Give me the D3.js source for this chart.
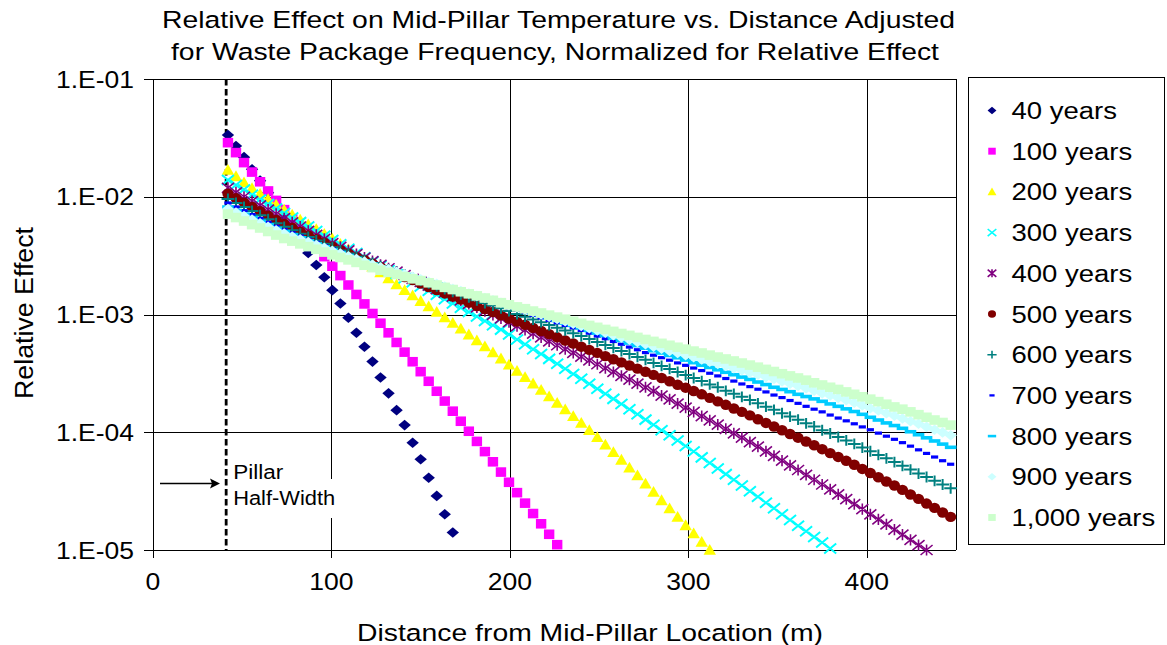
<!DOCTYPE html>
<html><head><meta charset="utf-8">
<script src="https://cdn.jsdelivr.net/npm/d3@7"></script>
<style>
body{margin:0;background:#fff;}
svg{display:block;font-family:"Liberation Sans",Arial,sans-serif;}
</style></head><body>
<svg id="chart" width="1167" height="645"></svg>
<script>
// ---------------- data ----------------
const distance = [42,46.5,51,55.5,60,64.5,69,73.5,78,82.5,
 87,91.5,96,100.5,105,109.5,114,118.5,123,127.5,
 132,136.5,141,145.5,150,154.5,159,163.5,168,172.5,
 177,181.5,186,190.5,195,199.5,204,208.5,213,217.5,
 222,226.5,231,235.5,240,244.5,249,253.5,258,262.5,
 267,271.5,276,280.5,285,289.5,294,298.5,303,307.5,
 312,316.5,321,325.5,330,334.5,339,343.5,348,352.5,
 357,361.5,366,370.5,375,379.5,384,388.5,393,397.5,
 402,406.5,411,415.5,420,424.5,429,433.5,438,442.5,447];

const s40 = [3.34e-2,2.70e-2,2.17e-2,1.71e-2,1.37e-2,1.08e-2,8.56e-3,6.75e-3,5.35e-3,4.23e-3,
 3.33e-3,2.63e-3,2.07e-3,1.61e-3,1.24e-3,9.39e-4,7.00e-4,5.33e-4,3.98e-4,2.92e-4,
 2.14e-4,1.54e-4,1.15e-4,8.15e-5,5.89e-5,4.11e-5,2.88e-5,2.01e-5,1.41e-5];

const s100 = [2.88e-2,2.37e-2,1.95e-2,1.62e-2,1.34e-2,1.12e-2,9.31e-3,7.77e-3,6.47e-3,5.39e-3,
 4.49e-3,3.73e-3,3.10e-3,2.57e-3,2.14e-3,1.78e-3,1.48e-3,1.23e-3,1.02e-3,8.43e-4,
 6.99e-4,5.79e-4,4.79e-4,3.97e-4,3.27e-4,2.71e-4,2.23e-4,1.84e-4,1.51e-4,1.24e-4,
 1.02e-4,8.36e-5,6.85e-5,5.61e-5,4.59e-5,3.76e-5,3.07e-5,2.50e-5,2.04e-5,1.67e-5,
 1.36e-5,1.11e-5];

const s200 = [1.69e-2,1.49e-2,1.32e-2,1.18e-2,1.055e-2,9.51e-3,8.56e-3,7.75e-3,7.02e-3,6.39e-3,
 5.82e-3,5.30e-3,4.82e-3,4.39e-3,3.97e-3,3.56e-3,3.20e-3,2.87e-3,2.55e-3,2.28e-3,
 2.02e-3,1.80e-3,1.61e-3,1.45e-3,1.30e-3,1.17e-3,1.05e-3,9.43e-4,8.47e-4,7.56e-4,
 6.75e-4,6.01e-4,5.35e-4,4.75e-4,4.22e-4,3.74e-4,3.31e-4,2.93e-4,2.59e-4,2.29e-4,
 2.01e-4,1.77e-4,1.56e-4,1.37e-4,1.20e-4,1.04e-4,9.06e-5,7.83e-5,6.76e-5,5.83e-5,
 5.00e-5,4.29e-5,3.65e-5,3.11e-5,2.64e-5,2.25e-5,1.91e-5,1.62e-5,1.38e-5,1.17e-5,
 1.00e-5];

const s300 = [1.39e-2,1.26e-2,1.15e-2,1.04e-2,9.47e-3,8.68e-3,7.94e-3,7.28e-3,6.66e-3,6.09e-3,
 5.58e-3,5.11e-3,4.67e-3,4.29e-3,3.94e-3,3.62e-3,3.33e-3,3.06e-3,2.82e-3,2.59e-3,
 2.39e-3,2.21e-3,2.03e-3,1.88e-3,1.73e-3,1.59e-3,1.47e-3,1.35e-3,1.24e-3,1.14e-3,
 1.05e-3,9.62e-4,8.82e-4,8.11e-4,7.44e-4,6.76e-4,6.14e-4,5.58e-4,5.07e-4,4.61e-4,
 4.20e-4,3.81e-4,3.46e-4,3.13e-4,2.85e-4,2.58e-4,2.34e-4,2.12e-4,1.92e-4,1.74e-4,
 1.57e-4,1.42e-4,1.28e-4,1.16e-4,1.04e-4,9.42e-5,8.51e-5,7.65e-5,6.85e-5,6.12e-5,
 5.49e-5,4.92e-5,4.41e-5,3.95e-5,3.53e-5,3.16e-5,2.83e-5,2.52e-5,2.26e-5,2.01e-5,
 1.80e-5,1.61e-5,1.44e-5,1.29e-5,1.16e-5,1.03e-5];

const s400 = [1.19e-2,1.09e-2,1.00e-2,9.20e-3,8.43e-3,7.78e-3,7.15e-3,6.57e-3,6.06e-3,5.59e-3,
 5.14e-3,4.75e-3,4.38e-3,4.03e-3,3.76e-3,3.50e-3,3.26e-3,3.04e-3,2.84e-3,2.64e-3,
 2.47e-3,2.31e-3,2.16e-3,2.01e-3,1.89e-3,1.76e-3,1.64e-3,1.53e-3,1.42e-3,1.32e-3,
 1.23e-3,1.15e-3,1.07e-3,9.94e-4,9.25e-4,8.60e-4,7.98e-4,7.40e-4,6.87e-4,6.38e-4,
 5.92e-4,5.48e-4,5.09e-4,4.73e-4,4.39e-4,4.07e-4,3.78e-4,3.50e-4,3.25e-4,3.01e-4,
 2.80e-4,2.59e-4,2.41e-4,2.23e-4,2.05e-4,1.90e-4,1.75e-4,1.62e-4,1.49e-4,1.37e-4,
 1.26e-4,1.16e-4,1.07e-4,9.80e-5,9.01e-5,8.26e-5,7.56e-5,6.89e-5,6.30e-5,5.74e-5,
 5.24e-5,4.78e-5,4.35e-5,3.95e-5,3.60e-5,3.27e-5,2.97e-5,2.70e-5,2.45e-5,2.22e-5,
 2.01e-5,1.82e-5,1.65e-5,1.49e-5,1.35e-5,1.22e-5,1.10e-5,1.00e-5];

const s500 = [1.06e-2,9.70e-3,8.92e-3,8.19e-3,7.54e-3,6.92e-3,6.35e-3,5.87e-3,5.45e-3,5.06e-3,
 4.69e-3,4.36e-3,4.06e-3,3.76e-3,3.52e-3,3.29e-3,3.07e-3,2.89e-3,2.70e-3,2.52e-3,
 2.37e-3,2.22e-3,2.08e-3,1.96e-3,1.83e-3,1.71e-3,1.61e-3,1.51e-3,1.42e-3,1.34e-3,
 1.26e-3,1.18e-3,1.11e-3,1.05e-3,9.84e-4,9.25e-4,8.70e-4,8.19e-4,7.70e-4,7.24e-4,
 6.81e-4,6.40e-4,6.02e-4,5.67e-4,5.33e-4,5.01e-4,4.72e-4,4.43e-4,4.17e-4,3.92e-4,
 3.69e-4,3.47e-4,3.26e-4,3.07e-4,2.89e-4,2.71e-4,2.53e-4,2.39e-4,2.24e-4,2.10e-4,
 1.96e-4,1.83e-4,1.71e-4,1.59e-4,1.49e-4,1.39e-4,1.29e-4,1.20e-4,1.12e-4,1.04e-4,
 9.66e-5,8.99e-5,8.34e-5,7.75e-5,7.18e-5,6.65e-5,6.17e-5,5.72e-5,5.30e-5,4.88e-5,
 4.51e-5,4.15e-5,3.82e-5,3.53e-5,3.24e-5,2.96e-5,2.72e-5,2.48e-5,2.28e-5,2.08e-5,
 1.91e-5];

const s600 = [9.57e-3,8.85e-3,8.18e-3,7.57e-3,6.98e-3,6.45e-3,5.97e-3,5.55e-3,5.19e-3,4.86e-3,
 4.55e-3,4.26e-3,3.99e-3,3.73e-3,3.50e-3,3.29e-3,3.09e-3,2.91e-3,2.74e-3,2.57e-3,
 2.42e-3,2.30e-3,2.18e-3,2.05e-3,1.94e-3,1.84e-3,1.73e-3,1.64e-3,1.56e-3,1.48e-3,
 1.40e-3,1.32e-3,1.25e-3,1.19e-3,1.13e-3,1.07e-3,1.01e-3,9.58e-4,9.07e-4,8.60e-4,
 8.14e-4,7.73e-4,7.32e-4,6.94e-4,6.56e-4,6.19e-4,5.85e-4,5.52e-4,5.20e-4,4.90e-4,
 4.62e-4,4.36e-4,4.12e-4,3.88e-4,3.66e-4,3.45e-4,3.25e-4,3.06e-4,2.89e-4,2.72e-4,
 2.55e-4,2.41e-4,2.25e-4,2.12e-4,2.00e-4,1.88e-4,1.76e-4,1.65e-4,1.55e-4,1.45e-4,
 1.36e-4,1.28e-4,1.19e-4,1.12e-4,1.04e-4,9.76e-5,9.11e-5,8.52e-5,7.96e-5,7.41e-5,
 6.90e-5,6.42e-5,6.00e-5,5.58e-5,5.19e-5,4.82e-5,4.46e-5,4.17e-5,3.87e-5,3.60e-5,
 3.34e-5];

const s700 = [8.85e-3,8.19e-3,7.62e-3,7.06e-3,6.54e-3,6.06e-3,5.62e-3,5.25e-3,4.94e-3,4.64e-3,
 4.35e-3,4.10e-3,3.85e-3,3.62e-3,3.41e-3,3.20e-3,3.02e-3,2.85e-3,2.68e-3,2.52e-3,
 2.40e-3,2.28e-3,2.16e-3,2.04e-3,1.94e-3,1.85e-3,1.75e-3,1.67e-3,1.59e-3,1.52e-3,
 1.45e-3,1.38e-3,1.32e-3,1.26e-3,1.20e-3,1.14e-3,1.09e-3,1.04e-3,9.84e-4,9.37e-4,
 8.93e-4,8.50e-4,8.08e-4,7.70e-4,7.33e-4,6.94e-4,6.56e-4,6.23e-4,5.90e-4,5.59e-4,
 5.29e-4,5.02e-4,4.75e-4,4.51e-4,4.30e-4,4.09e-4,3.88e-4,3.70e-4,3.51e-4,3.34e-4,
 3.17e-4,3.01e-4,2.86e-4,2.72e-4,2.57e-4,2.44e-4,2.32e-4,2.20e-4,2.07e-4,1.97e-4,
 1.86e-4,1.76e-4,1.66e-4,1.57e-4,1.49e-4,1.40e-4,1.32e-4,1.25e-4,1.18e-4,1.11e-4,
 1.05e-4,9.83e-5,9.26e-5,8.71e-5,8.16e-5,7.62e-5,7.09e-5,6.61e-5,6.16e-5,5.73e-5,
 5.35e-5];

const s800 = [8.18e-3,7.65e-3,7.12e-3,6.66e-3,6.20e-3,5.78e-3,5.39e-3,5.06e-3,4.77e-3,4.49e-3,
 4.24e-3,3.99e-3,3.76e-3,3.54e-3,3.35e-3,3.16e-3,2.98e-3,2.83e-3,2.67e-3,2.52e-3,
 2.42e-3,2.30e-3,2.19e-3,2.09e-3,1.99e-3,1.90e-3,1.82e-3,1.73e-3,1.65e-3,1.58e-3,
 1.50e-3,1.44e-3,1.37e-3,1.31e-3,1.25e-3,1.19e-3,1.13e-3,1.08e-3,1.03e-3,9.79e-4,
 9.34e-4,8.89e-4,8.47e-4,8.08e-4,7.70e-4,7.32e-4,6.96e-4,6.63e-4,6.31e-4,6.01e-4,
 5.72e-4,5.44e-4,5.18e-4,4.93e-4,4.71e-4,4.49e-4,4.29e-4,4.10e-4,3.90e-4,3.71e-4,
 3.55e-4,3.39e-4,3.23e-4,3.08e-4,2.94e-4,2.81e-4,2.67e-4,2.54e-4,2.41e-4,2.31e-4,
 2.21e-4,2.10e-4,2.01e-4,1.92e-4,1.83e-4,1.74e-4,1.66e-4,1.58e-4,1.50e-4,1.42e-4,
 1.34e-4,1.27e-4,1.20e-4,1.14e-4,1.08e-4,1.01e-4,9.53e-5,8.97e-5,8.43e-5,7.93e-5,
 7.45e-5];

const s900 = [7.87e-3,7.35e-3,6.85e-3,6.39e-3,5.95e-3,5.56e-3,5.19e-3,4.87e-3,4.60e-3,4.35e-3,
 4.12e-3,3.89e-3,3.68e-3,3.47e-3,3.30e-3,3.12e-3,2.96e-3,2.81e-3,2.66e-3,2.52e-3,
 2.42e-3,2.30e-3,2.19e-3,2.09e-3,1.99e-3,1.90e-3,1.82e-3,1.73e-3,1.65e-3,1.58e-3,
 1.51e-3,1.44e-3,1.38e-3,1.32e-3,1.26e-3,1.20e-3,1.15e-3,1.10e-3,1.05e-3,1.00e-3,
 9.58e-4,9.16e-4,8.76e-4,8.37e-4,8.00e-4,7.65e-4,7.32e-4,6.99e-4,6.68e-4,6.39e-4,
 6.11e-4,5.84e-4,5.59e-4,5.34e-4,5.13e-4,4.91e-4,4.71e-4,4.52e-4,4.33e-4,4.15e-4,
 3.98e-4,3.81e-4,3.65e-4,3.50e-4,3.36e-4,3.21e-4,3.08e-4,2.94e-4,2.83e-4,2.70e-4,
 2.58e-4,2.47e-4,2.36e-4,2.25e-4,2.14e-4,2.05e-4,1.96e-4,1.87e-4,1.78e-4,1.69e-4,
 1.60e-4,1.53e-4,1.45e-4,1.38e-4,1.31e-4,1.24e-4,1.18e-4,1.11e-4,1.05e-4,9.97e-5,
 9.44e-5];

const s1000 = [7.13e-3,6.66e-3,6.22e-3,5.80e-3,5.43e-3,5.07e-3,4.73e-3,4.42e-3,4.20e-3,3.98e-3,
 3.77e-3,3.58e-3,3.39e-3,3.21e-3,3.05e-3,2.91e-3,2.77e-3,2.62e-3,2.50e-3,2.38e-3,
 2.28e-3,2.19e-3,2.10e-3,2.01e-3,1.94e-3,1.86e-3,1.78e-3,1.70e-3,1.63e-3,1.56e-3,
 1.50e-3,1.44e-3,1.38e-3,1.32e-3,1.26e-3,1.21e-3,1.16e-3,1.12e-3,1.07e-3,1.03e-3,
 9.88e-4,9.50e-4,9.12e-4,8.76e-4,8.42e-4,8.08e-4,7.78e-4,7.47e-4,7.19e-4,6.90e-4,
 6.65e-4,6.39e-4,6.14e-4,5.91e-4,5.69e-4,5.48e-4,5.27e-4,5.08e-4,4.89e-4,4.71e-4,
 4.52e-4,4.35e-4,4.19e-4,4.03e-4,3.87e-4,3.72e-4,3.57e-4,3.42e-4,3.28e-4,3.14e-4,
 3.01e-4,2.89e-4,2.77e-4,2.63e-4,2.52e-4,2.41e-4,2.31e-4,2.20e-4,2.10e-4,2.00e-4,
 1.91e-4,1.82e-4,1.73e-4,1.64e-4,1.57e-4,1.49e-4,1.41e-4,1.34e-4,1.27e-4,1.21e-4,
 1.15e-4];

const seriesNames = ["40 years","100 years","200 years","300 years","400 years","500 years",
  "600 years","700 years","800 years","900 years","1,000 years"];
const seriesValues = [s40,s100,s200,s300,s400,s500,s600,s700,s800,s900,s1000];
const seriesColors = ["#000080","#FF00FF","#FFFF00","#00FFFF","#800080","#800000",
  "#008080","#0000FF","#00CCFF","#CCFFFF","#CCFFCC"];
const seriesMarkers = ["diamond","square","triangle","cross","star","circle",
  "plus","dash","longdash","diamond","square"];

const xTicks = [0,100,200,300,400];
const xTickLabels = ["0","100","200","300","400"];
const yTicks = [1e-1,1e-2,1e-3,1e-4,1e-5];
const yTickLabels = ["1.E-01","1.E-02","1.E-03","1.E-04","1.E-05"];
const pillarHalfWidth = 41;

const titleLines = ["Relative Effect on Mid-Pillar Temperature vs. Distance Adjusted",
  "for Waste Package Frequency, Normalized for Relative Effect"];
const xTitle = "Distance from Mid-Pillar Location (m)";
const yTitle = "Relative Effect";
const annotationLines = ["Pillar","Half-Width"];

// ---------------- layout ----------------
const svg = d3.select("#chart");
const x = d3.scaleLinear().domain([0,450]).range([153,956]);
const y = d3.scaleLog().domain([1e-5,1e-1]).range([550,79]);

function addText(parent, str, xx, yy, size, anchor, targetLen, sx) {
  const t = parent.append("text").attr("x", 0).attr("y", yy)
    .attr("font-size", size).attr("fill", "#000").text(str);
  const w = t.node().getComputedTextLength();
  const L = targetLen != null ? targetLen : w * sx;
  const x0 = anchor === "middle" ? xx - L / 2 : anchor === "end" ? xx - L : xx;
  t.attr("x", x0).attr("textLength", L).attr("lengthAdjust", "spacingAndGlyphs");
  return t;
}

// gridlines
const grid = svg.append("g").attr("stroke", "#000").attr("stroke-width", 1)
  .attr("shape-rendering", "crispEdges");
grid.selectAll("line.v").data(xTicks.filter(d => d > 0)).join("line")
  .attr("x1", d => Math.round(x(d)) + 0.5).attr("x2", d => Math.round(x(d)) + 0.5)
  .attr("y1", y(1e-1)).attr("y2", y(1e-5));
grid.selectAll("line.h").data(yTicks).join("line")
  .attr("x1", x(0)).attr("x2", x(450))
  .attr("y1", d => Math.round(y(d)) + 0.5).attr("y2", d => Math.round(y(d)) + 0.5);
grid.append("line").attr("x1", Math.round(x(450)) + 0.5).attr("x2", Math.round(x(450)) + 0.5)
  .attr("y1", y(1e-1)).attr("y2", y(1e-5));
// axes
grid.append("line").attr("x1", Math.round(x(0)) + 0.5).attr("x2", Math.round(x(0)) + 0.5)
  .attr("y1", y(1e-1)).attr("y2", y(1e-5));
grid.selectAll("line.yt").data(yTicks).join("line")
  .attr("x1", x(0) - 9).attr("x2", x(0) + 4)
  .attr("y1", d => Math.round(y(d)) + 0.5).attr("y2", d => Math.round(y(d)) + 0.5);
grid.selectAll("line.xt").data(xTicks).join("line")
  .attr("x1", d => Math.round(x(d)) + 0.5).attr("x2", d => Math.round(x(d)) + 0.5)
  .attr("y1", y(1e-5) - 4).attr("y2", y(1e-5) + 8);

// annotation box (white behind text)
svg.append("rect").attr("x", x(pillarHalfWidth) + 4).attr("y", 479).attr("width", 107).attr("height", 39)
  .attr("fill", "#fff");

// pillar dashed line
svg.append("line").attr("x1", x(pillarHalfWidth)).attr("x2", x(pillarHalfWidth))
  .attr("y1", y(1e-1)).attr("y2", y(1e-5))
  .attr("stroke", "#000").attr("stroke-width", 2.8).attr("stroke-dasharray", "6.5,3.5");

// markers
function markerPath(type, k) {
  const s = v => (v * k).toFixed(2);
  switch (type) {
    case "diamond": return `M0,${s(-5.3)}L${s(6.2)},0L0,${s(5.3)}L${s(-6.2)},0Z`;
    case "square": return `M${s(-5.2)},${s(-4.8)}h${s(10.4)}v${s(9.6)}h${s(-10.4)}Z`;
    case "triangle": return `M0,${s(-6)}L${s(6.2)},${s(4.8)}L${s(-6.2)},${s(4.8)}Z`;
    case "circle": return `M${s(-5.6)},0A${s(5.6)},${s(5.2)} 0 1,0 ${s(5.6)},0A${s(5.6)},${s(5.2)} 0 1,0 ${s(-5.6)},0Z`;
    case "cross": return `M${s(-6)},${s(-5)}L${s(6)},${s(5)}M${s(-6)},${s(5)}L${s(6)},${s(-5)}`;
    case "star": return `M${s(-6)},${s(-5)}L${s(6)},${s(5)}M${s(-6)},${s(5)}L${s(6)},${s(-5)}M0,${s(-5.6)}L0,${s(5.6)}`;
    case "plus": return `M${s(-6.4)},0L${s(6.4)},0M0,${s(-5.4)}L0,${s(5.4)}`;
    case "dash": return `M${s(-3.6)},${s(-1.6)}h${s(7.2)}v${s(3.2)}h${s(-7.2)}Z`;
    case "longdash": return `M${s(-5.8)},${s(-1.8)}h${s(11.6)}v${s(3.6)}h${s(-11.6)}Z`;
  }
}
const isStroke = t => t === "cross" || t === "star" || t === "plus";

const plot = svg.append("g");
seriesValues.forEach((vals, i) => {
  const pts = vals.map((v, j) => ({ x: distance[j], v }));
  const type = seriesMarkers[i];
  const g = plot.append("g");
  g.selectAll("path").data(pts).join("path")
    .attr("transform", d => `translate(${x(d.x)},${y(d.v)})`)
    .attr("d", markerPath(type, 1))
    .attr("fill", isStroke(type) ? "none" : seriesColors[i])
    .attr("stroke", isStroke(type) ? seriesColors[i] : "none")
    .attr("stroke-width", type === "star" ? 1.6 : 2);
});

// annotation text + arrow
addText(svg, annotationLines[0], x(pillarHalfWidth) + 7, 479, 20, "start", 50);
addText(svg, annotationLines[1], x(pillarHalfWidth) + 7, 505, 20, "start", 102);
svg.append("line").attr("x1", 160).attr("x2", 212).attr("y1", 483.5).attr("y2", 483.5)
  .attr("stroke", "#000").attr("stroke-width", 1.3);
svg.append("path").attr("d", "M220,483.5L210,478.5L212,483.5L210,488.5Z").attr("fill", "#000");

// tick labels
yTicks.forEach((t, i) => addText(svg, yTickLabels[i], 134, y(t) + 8.5, 23.5, "end", 78));
xTicks.forEach((t, i) => addText(svg, xTickLabels[i], x(t), 590, 23.5, "middle", null, 1.13));

// titles
addText(svg, titleLines[0], 162, 28, 24.5, "start", 793);
addText(svg, titleLines[1], 171, 60, 24.5, "start", 768);
addText(svg, xTitle, 357, 641, 24.5, "start", 466);
const yl = svg.append("g").attr("transform", "translate(33,313) rotate(-90)");
addText(yl, yTitle, 0, 0, 25, "middle", 172);

// legend
svg.append("rect").attr("x", 968.5).attr("y", 77.5).attr("width", 196).attr("height", 467)
  .attr("fill", "#fff").attr("stroke", "#000").attr("stroke-width", 1);
const legend = svg.append("g");
seriesNames.forEach((name, i) => {
  const cy = 110.5 + 40.7 * i;
  const type = seriesMarkers[i];
  legend.append("path").attr("transform", `translate(992,${cy})`)
    .attr("d", markerPath(type, 0.72))
    .attr("fill", isStroke(type) ? "none" : seriesColors[i])
    .attr("stroke", isStroke(type) ? seriesColors[i] : "none")
    .attr("stroke-width", 1.6);
  addText(legend, name, 1011.5, cy + 8.5, 23.5, "start", null, 1.17);
});
</script>
</body></html>
